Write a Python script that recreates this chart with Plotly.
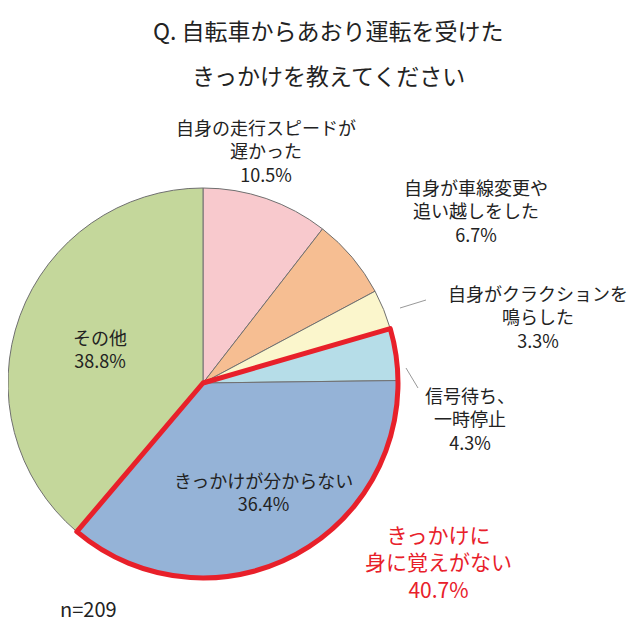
import plotly.graph_objects as go

labels = ['自身の走行スピードが遅かった', '自身が車線変更や追い越しをした', '自身がクラクションを鳴らした',
          '信号待ち、一時停止', 'きっかけが分からない', 'その他']
values = [10.5, 6.7, 3.3, 4.3, 36.4, 38.8]
colors = ['#F8C9CD', '#F6BE92', '#FBF6CC', '#B6DDE8', '#95B3D7', '#C4D79B']
group_values = [40.7, 59.3]  # 4.3 + 36.4 = 40.7

dom = dict(x=[0/640, 390/640], y=[1-570/640, 1-180/640])
fig = go.Figure()
fig.add_trace(go.Pie(values=values, labels=labels, sort=False, direction='clockwise', rotation=0,
                     marker=dict(colors=colors, line=dict(color='#707070', width=1)),
                     textinfo='none', domain=dom, showlegend=False))
fig.add_trace(go.Pie(values=group_values, sort=False, direction='clockwise', rotation=(10.5+6.7+3.3)*3.6,
                     marker=dict(colors=['rgba(0,0,0,0)', 'rgba(0,0,0,0)'],
                                 line=dict(color=['#E8202A', 'rgba(0,0,0,0)'], width=[5, 0])),
                     textinfo='none', domain=dom, showlegend=False, hoverinfo='skip'))

F = 'Noto Sans CJK JP'
def ann(x, y, t, color='#222', size=18):
    fig.add_annotation(x=x/640, y=1-y/640, xref='paper', yref='paper', text=t, showarrow=False,
                       xanchor='center', yanchor='middle',
                       font=dict(family=F, size=size, color=color), align='center')

ann(320, 22, 'Q. 自転車からあおり運転を受けた', size=23)
ann(320, 67, 'きっかけを教えてください', size=23)
ann(258, 142, '自身の走行スピードが<br>遅かった<br>10.5%')
ann(468, 202, '自身が車線変更や<br>追い越しをした<br>6.7%')
ann(530, 308, '自身がクラクションを<br>鳴らした<br>3.3%')
ann(462, 410, '信号待ち、<br>一時停止<br>4.3%')
ann(92, 340, 'その他<br>38.8%')
ann(255, 483, 'きっかけが分からない<br>36.4%')
ann(430, 553, 'きっかけに<br>身に覚えがない<br>40.7%', color='#E8202A', size=21)
ann(80, 600, 'n=209', size=20)
fig.add_shape(type='line', xref='paper', yref='paper', x0=392/640, y0=1-300/640, x1=418/640, y1=1-292/640,
              line=dict(color='#999', width=1))
fig.add_shape(type='line', xref='paper', yref='paper', x0=398/640, y0=1-360/640, x1=410/640, y1=1-380/640,
              line=dict(color='#999', width=1))

fig.update_layout(width=640, height=640, margin=dict(l=0, r=0, t=0, b=0),
                  paper_bgcolor='white', plot_bgcolor='white')
fig.write_html('out.html')
